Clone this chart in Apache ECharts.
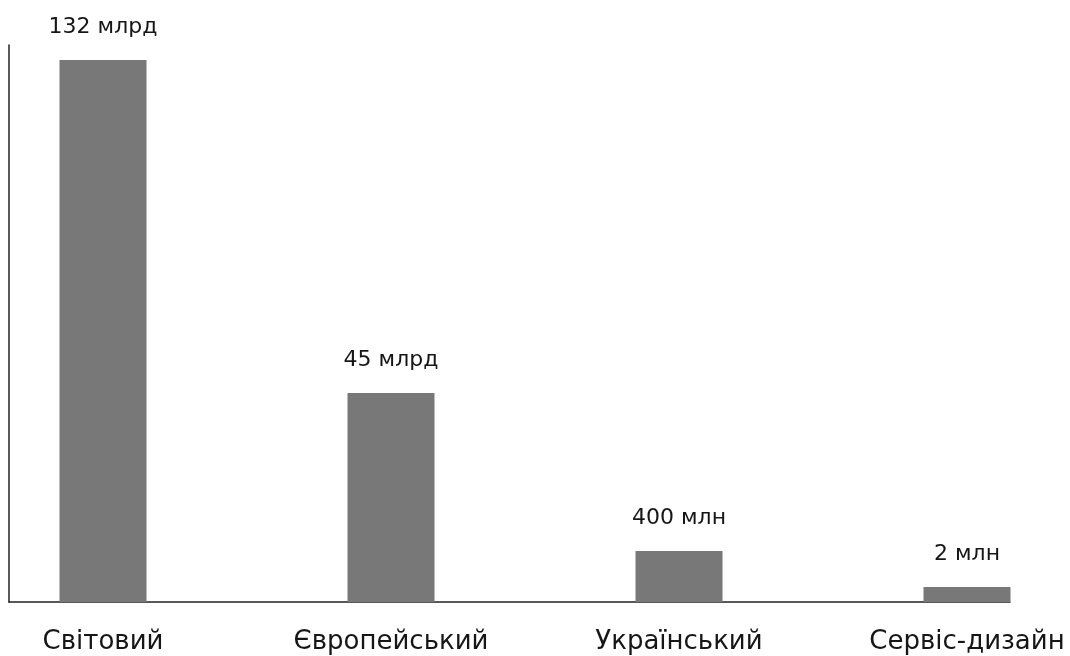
<!DOCTYPE html>
<html>
<head>
<meta charset="utf-8">
<script src="https://cdn.jsdelivr.net/npm/echarts@6/dist/echarts.min.js"></script>
<style>html,body{margin:0;padding:0;background:#fff;}#chart{width:1070px;height:656px;}</style>
</head>
<body>
<div id="chart"></div>
<script>
// Categories (market names)
const categories = ['Світовий', 'Європейський', 'Український', 'Сервіс-дизайн'];
// Bar heights as drawn in the picture (visual scale, relative to the first bar = 132)
const barHeights = [132, 50.9, 12.4, 3.65];
// Value labels shown above bars
const valueLabels = ['132 млрд', '45 млрд', '400 млн', '2 млн'];

const FONT = '"DejaVu Sans", sans-serif';
const chart = echarts.init(document.getElementById('chart'));
chart.setOption({
  animation: false,
  backgroundColor: '#ffffff',
  grid: [
    { left: 103, right: 103, top: 60, bottom: 54 },
    { left: 9, right: 60, top: 45, bottom: 54 }
  ],
  xAxis: [
    {
      type: 'category', gridIndex: 0, data: categories, boundaryGap: false,
      axisLine: { show: false }, axisTick: { show: false },
      axisLabel: { fontSize: 26, color: '#161616', margin: 27, fontFamily: FONT, interval: 0 }
    },
    {
      type: 'category', gridIndex: 1, data: [''], boundaryGap: false,
      axisLine: { show: true, lineStyle: { color: '#222', width: 1.5 } },
      axisTick: { show: false }, axisLabel: { show: false }
    }
  ],
  yAxis: [
    { type: 'value', gridIndex: 0, min: 0, max: 132, show: false, splitLine: { show: false } },
    {
      type: 'value', gridIndex: 1, min: 0, max: 1,
      axisLine: { show: true, lineStyle: { color: '#222', width: 1.5 } },
      axisTick: { show: false }, axisLabel: { show: false }, splitLine: { show: false }
    }
  ],
  series: [{
    type: 'bar', xAxisIndex: 0, yAxisIndex: 0,
    data: barHeights, barWidth: 87,
    itemStyle: { color: '#787878' },
    label: {
      show: true, position: 'top', distance: 22,
      fontSize: 22, color: '#161616', fontFamily: FONT,
      formatter: p => valueLabels[p.dataIndex]
    }
  }]
});
</script>
</body>
</html>
